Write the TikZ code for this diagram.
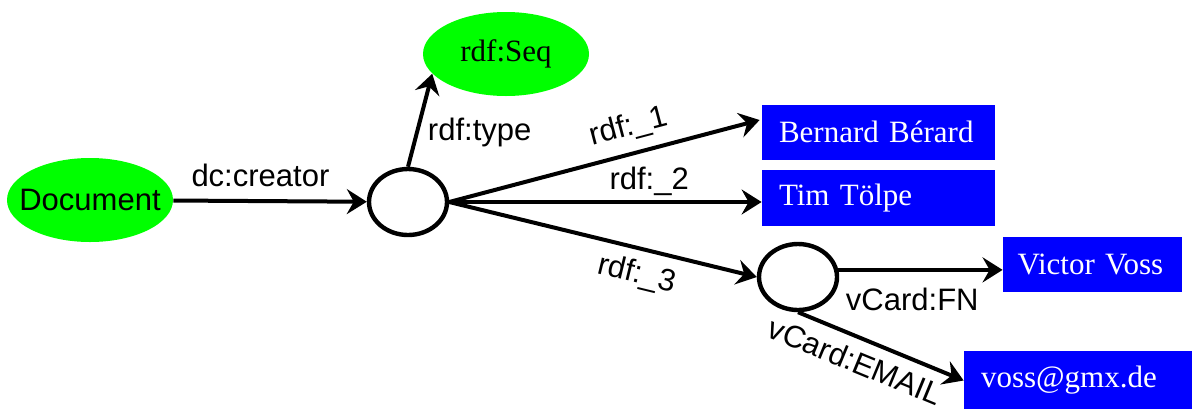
\documentclass[tikz,border=0pt]{standalone}
\usepackage{fontspec}
\setmainfont{Liberation Serif}
\setsansfont{Liberation Sans}
\usetikzlibrary{arrows.meta,shapes.geometric}
\definecolor{resgreen}{RGB}{0,255,0}
\definecolor{litblue}{RGB}{0,0,255}
\begin{document}
\begin{tikzpicture}[x=0.5pt, y=-0.5pt, >={Stealth[length=10pt,width=12.5pt,inset=3.5pt]},
    res/.style={ellipse, fill=resgreen, inner sep=0pt, minimum width=83pt, minimum height=42pt, font=\fontsize{15.5}{18}\selectfont},
    blank/.style={ellipse, draw, line width=2.2pt, minimum width=39pt, minimum height=33pt, inner sep=0pt},
    lit/.style={fill=litblue, text=white, align=left, inner xsep=8.5pt, minimum height=27.5pt, font=\fontsize{15.5}{18}\selectfont},
    prop/.style={inner sep=2pt, font=\sffamily\fontsize{15.5}{18}\selectfont},
    link/.style={->, line width=2pt}]
    \useasboundingbox (0,0) rectangle (1192,408);
    \node (doc) at (90,200) [res] {\makebox[0pt]{\sffamily Document}};
    \node (seq) at (506,54) [res] {rdf:Seq};
    \node (bag) at (408,202) [blank] {};
    \node (card) at (798,277) [blank] {};
    \node (bernard) at (878.5,132) [lit, text width=99.5pt] {Bernard Bérard};
    \node (tim) at (878.5,198) [lit, text width=99.5pt, minimum height=28pt] {Tim Tölpe};
    \node (victor) at (1092.5,264.5) [lit, inner xsep=7.25pt, text width=75pt] {Victor Voss};
    \node (mail) at (1080,380.5) [lit, text width=99pt, minimum height=29.5pt] {voss@gmx.de};
    \draw [link] (doc) -- node [prop, above=4pt, pos=0.45] {dc:creator} (bag);
    \draw [link] (bag.north) -- node [prop, right=2.5pt, pos=0.37] {rdf:type} (seq.195);
    \draw [link] (bag.east) -- node [prop, sloped, above=3pt, pos=0.6] {rdf:\_1} ([xshift=-1pt,yshift=6pt]bernard.west);
    \draw [link] (bag.east) -- node [prop, above=0pt, pos=0.64] {rdf:\_2} (bag.east -| tim.west);
    \draw [link] (bag.east) -- node [prop, sloped, below=3pt, pos=0.63] {rdf:\_3} (card.west);
    \draw [link] (card.10) -- node [prop, below=6pt, pos=0.45] {vCard:FN} (card.10 -| victor.west);
    \draw [link] (card.south) -- node [prop, sloped, below=3pt, pos=0.4] {vCard:EMAIL} (mail.west);
\end{tikzpicture}
\end{document}
